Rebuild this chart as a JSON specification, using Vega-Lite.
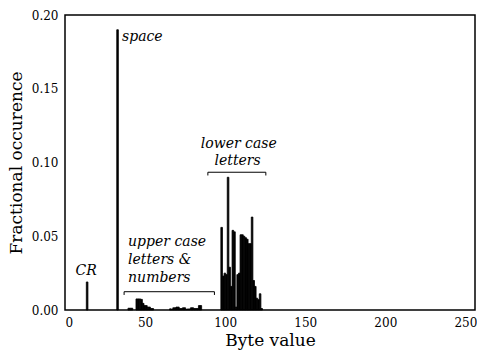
{
  "$schema": "https://vega.github.io/schema/vega-lite/v6.json",
  "width": 410,
  "height": 295,
  "autosize": "none",
  "padding": {"left": 65, "top": 15, "right": 2, "bottom": 44},
  "background": "white",
  "config": {
    "view": {"stroke": "black", "strokeWidth": 1.5},
    "axis": {
      "ticks": false,
      "grid": false,
      "domain": false,
      "labelFont": "DejaVu Serif",
      "labelFontSize": 12,
      "labelColor": "black",
      "titleFont": "DejaVu Serif",
      "titleFontSize": 17,
      "titleFontWeight": "normal",
      "titleColor": "black"
    }
  },
  "datasets": {
    "bytes": [
      {"byte": 13, "frac": 0.019},
      {"byte": 32, "frac": 0.19},
      {"byte": 39, "frac": 0.0012},
      {"byte": 40, "frac": 0.0012},
      {"byte": 41, "frac": 0.0012},
      {"byte": 44, "frac": 0.0075},
      {"byte": 45, "frac": 0.0075},
      {"byte": 46, "frac": 0.0075},
      {"byte": 47, "frac": 0.0072},
      {"byte": 48, "frac": 0.0045},
      {"byte": 49, "frac": 0.003},
      {"byte": 50, "frac": 0.003},
      {"byte": 51, "frac": 0.002},
      {"byte": 52, "frac": 0.002},
      {"byte": 53, "frac": 0.001},
      {"byte": 54, "frac": 0.001},
      {"byte": 65, "frac": 0.0008},
      {"byte": 66, "frac": 0.0005},
      {"byte": 67, "frac": 0.0015},
      {"byte": 68, "frac": 0.0015},
      {"byte": 69, "frac": 0.002},
      {"byte": 70, "frac": 0.002},
      {"byte": 71, "frac": 0.001},
      {"byte": 72, "frac": 0.001},
      {"byte": 73, "frac": 0.0015},
      {"byte": 74, "frac": 0.0015},
      {"byte": 75, "frac": 0.0005},
      {"byte": 76, "frac": 0.0007},
      {"byte": 77, "frac": 0.0007},
      {"byte": 78, "frac": 0.0015},
      {"byte": 79, "frac": 0.0015},
      {"byte": 80, "frac": 0.001},
      {"byte": 81, "frac": 0.001},
      {"byte": 82, "frac": 0.001},
      {"byte": 83, "frac": 0.003},
      {"byte": 84, "frac": 0.003},
      {"byte": 97, "frac": 0.056},
      {"byte": 98, "frac": 0.023},
      {"byte": 99, "frac": 0.025},
      {"byte": 100, "frac": 0.024},
      {"byte": 101, "frac": 0.09},
      {"byte": 102, "frac": 0.029},
      {"byte": 103, "frac": 0.016},
      {"byte": 104, "frac": 0.054},
      {"byte": 105, "frac": 0.053},
      {"byte": 106, "frac": 0.002},
      {"byte": 107, "frac": 0.024},
      {"byte": 108, "frac": 0.025},
      {"byte": 109, "frac": 0.051},
      {"byte": 110, "frac": 0.051},
      {"byte": 111, "frac": 0.05},
      {"byte": 112, "frac": 0.049},
      {"byte": 113, "frac": 0.048},
      {"byte": 114, "frac": 0.045},
      {"byte": 115, "frac": 0.045},
      {"byte": 116, "frac": 0.063},
      {"byte": 117, "frac": 0.02},
      {"byte": 118, "frac": 0.016},
      {"byte": 119, "frac": 0.008},
      {"byte": 120, "frac": 0.007},
      {"byte": 121, "frac": 0.011},
      {"byte": 122, "frac": 0.001}
    ],
    "labelsLeft": [
      {"x": 35.6, "y": 0.1824, "t": "space"},
      {"x": 39.4, "y": 0.0434, "t": "upper case"},
      {"x": 39.4, "y": 0.0312, "t": "letters &"},
      {"x": 39.4, "y": 0.019, "t": "numbers"}
    ],
    "labelsCenter": [
      {"x": 13.2, "y": 0.0237, "t": "CR"},
      {"x": 108.5, "y": 0.1098, "t": "lower case"},
      {"x": 107.8, "y": 0.0983, "t": "letters"}
    ],
    "brackets": [
      {"x": 36.9, "x2": 93.3, "y": 0.0124},
      {"x": 89.2, "x2": 125.4, "y": 0.0934}
    ],
    "bracketEnds": [
      {"x": 36.9, "y": 0.0124, "y2": 0.0102},
      {"x": 93.3, "y": 0.0124, "y2": 0.0102},
      {"x": 89.2, "y": 0.0934, "y2": 0.0912},
      {"x": 125.4, "y": 0.0934, "y2": 0.0912}
    ]
  },
  "layer": [
    {
      "data": {"name": "bytes"},
      "transform": [
        {"bin": {"step": 1, "extent": [0, 256]}, "field": "byte", "as": ["b0", "b1"]}
      ],
      "mark": {"type": "bar", "color": "black", "stroke": "black", "strokeWidth": 0.8, "binSpacing": 0},
      "encoding": {
        "x": {
          "field": "b0",
          "type": "quantitative",
          "bin": {"binned": true, "step": 1},
          "scale": {"domain": [0, 256], "nice": false, "zero": false},
          "axis": {"values": [0, 50, 100, 150, 200, 250], "title": "Byte value", "labelPadding": 7, "titlePadding": 4, "format": "d", "labelFont": "DejaVu Serif", "labelFontSize": 12}
        },
        "x2": {"field": "b1"},
        "y": {
          "field": "frac",
          "type": "quantitative",
          "scale": {"domain": [0, 0.2], "nice": false},
          "axis": {"values": [0, 0.05, 0.1, 0.15, 0.2], "format": ".2f", "title": "Fractional occurence", "labelPadding": 7, "titlePadding": 6, "labelFont": "DejaVu Serif", "labelFontSize": 12}
        }
      }
    },
    {
      "data": {"name": "labelsLeft"},
      "mark": {"type": "text", "align": "left", "baseline": "alphabetic", "font": "DejaVu Serif", "fontStyle": "italic", "fontSize": 14, "color": "black"},
      "encoding": {
        "x": {"field": "x", "type": "quantitative"},
        "y": {"field": "y", "type": "quantitative"},
        "text": {"field": "t"}
      }
    },
    {
      "data": {"name": "labelsCenter"},
      "mark": {"type": "text", "align": "center", "baseline": "alphabetic", "font": "DejaVu Serif", "fontStyle": "italic", "fontSize": 14, "color": "black"},
      "encoding": {
        "x": {"field": "x", "type": "quantitative"},
        "y": {"field": "y", "type": "quantitative"},
        "text": {"field": "t"}
      }
    },
    {
      "data": {"name": "brackets"},
      "mark": {"type": "rule", "color": "black", "strokeWidth": 1},
      "encoding": {
        "x": {"field": "x", "type": "quantitative"},
        "x2": {"field": "x2"},
        "y": {"field": "y", "type": "quantitative"}
      }
    },
    {
      "data": {"name": "bracketEnds"},
      "mark": {"type": "rule", "color": "black", "strokeWidth": 1},
      "encoding": {
        "x": {"field": "x", "type": "quantitative"},
        "y": {"field": "y", "type": "quantitative"},
        "y2": {"field": "y2"}
      }
    }
  ]
}
